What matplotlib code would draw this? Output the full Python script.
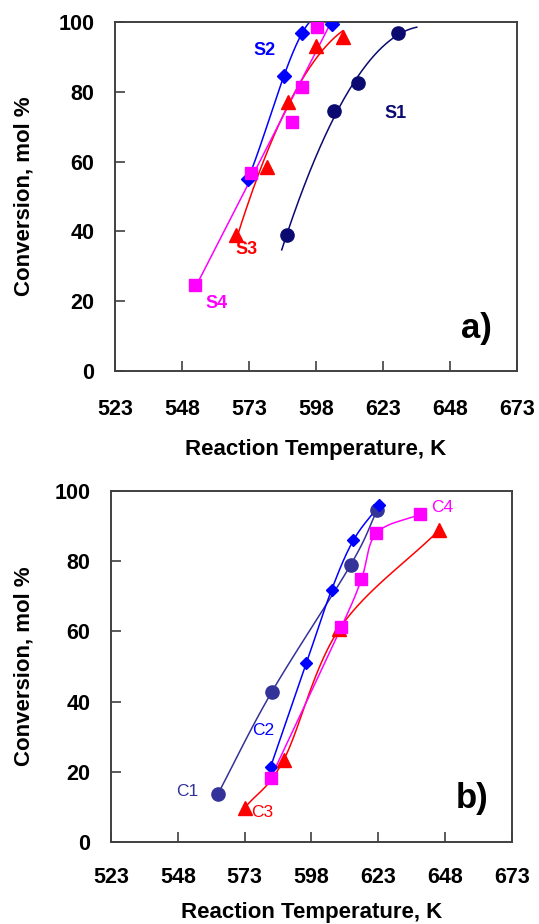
import numpy as np
import matplotlib
matplotlib.use("Agg")
import matplotlib.pyplot as plt

plt.rcParams['font.family'] = ['Liberation Sans', 'DejaVu Sans']
plt.rcParams['font.weight'] = 'bold'

# ---- dados painel a) ----
s1_x = [587.2, 604.7, 613.7, 628.6]
s1_y = [39.0, 74.5, 82.5, 96.8]
s2_x = [572.6, 586.0, 592.8, 604.0]
s2_y = [55.0, 84.5, 96.8, 99.4]
s3_x = [568.1, 579.7, 587.6, 598.0, 608.0]
s3_y = [39.0, 58.5, 77.0, 93.0, 95.7]
s4_x = [552.9, 573.7, 589.0, 592.8, 598.4]
s4_y = [24.6, 56.7, 71.4, 81.4, 98.6]

# ---- dados painel b) ----
c1_x = [563.0, 583.1, 612.6, 622.6]
c1_y = [13.7, 42.7, 78.9, 94.6]
c2_x = [582.7, 596.1, 605.5, 613.7, 623.4]
c2_y = [21.4, 51.0, 71.8, 86.0, 96.0]
c3_x = [573.0, 587.6, 608.4, 645.8]
c3_y = [9.7, 23.4, 60.7, 88.9]
c4_x = [582.7, 609.2, 616.7, 622.3, 638.7]
c4_y = [18.2, 61.3, 74.9, 88.0, 93.4]

xticks = [523, 548, 573, 598, 623, 648, 673]
yticks = [0, 20, 40, 60, 80, 100]

NAVY = '#0a0a70'
SLATE = '#333399'
BLUE = '#0000ff'
RED = '#ff0000'
MAG = '#ff00ff'


# linha de tendência polinomial (como no Excel)
def tendencia(ax, x, y, cor, grau=2, antes=0.0, depois=0.0):
    p = np.polyfit(x, y, grau)
    xs = np.linspace(min(x) - antes, max(x) + depois, 200)
    ax.plot(xs, np.polyval(p, xs), color=cor, lw=1.1, zorder=2)


# linha suavizada (Catmull-Rom) passando pelos pontos
def suave(ax, x, y, cor):
    pts = np.column_stack([x, y])
    ext = np.vstack([2 * pts[0] - pts[1], pts, 2 * pts[-1] - pts[-2]])
    t = np.linspace(0, 1, 40)[:, None]
    out = []
    for i in range(1, len(ext) - 2):
        p0, p1, p2, p3 = ext[i - 1], ext[i], ext[i + 1], ext[i + 2]
        seg = 0.5 * (2 * p1 + (-p0 + p2) * t
                     + (2 * p0 - 5 * p1 + 4 * p2 - p3) * t ** 2
                     + (-p0 + 3 * p1 - 3 * p2 + p3) * t ** 3)
        out.append(seg)
    out = np.vstack(out)
    ax.plot(out[:, 0], out[:, 1], color=cor, lw=1.1, zorder=2)


def estilo(ax, painel, xpad, xlpad, ylpad):
    ax.set_xlim(523, 673)
    ax.set_ylim(0, 100)
    ax.set_xticks(xticks)
    ax.set_yticks(yticks)
    ax.tick_params(direction='in', length=7, width=1.2, labelsize=15.5,
                   color='#404040')
    ax.tick_params(axis='x', pad=xpad)
    ax.tick_params(axis='y', pad=15)
    for s in ax.spines.values():
        s.set_color('#404040')
        s.set_linewidth(1.4)
    ax.set_xlabel('Reaction Temperature, K', fontsize=16, fontweight='bold',
                  labelpad=xlpad)
    ax.set_ylabel('Conversion, mol %', fontsize=16, fontweight='bold',
                  labelpad=ylpad)
    ax.text(658, 12.3, painel, fontsize=25, fontweight='bold', ha='center',
            va='center')


fig = plt.figure(figsize=(5.39, 9.24), dpi=100)
ax1 = fig.add_axes([0.2134, 0.5985, 0.7458, 0.3777])
ax2 = fig.add_axes([0.2059, 0.0887, 0.744, 0.3799])

# painel a)
tendencia(ax1, s1_x, s1_y, NAVY, antes=2.0, depois=7)
tendencia(ax1, s2_x, s2_y, BLUE, grau=3)
tendencia(ax1, s3_x, s3_y, RED)
tendencia(ax1, s4_x, s4_y, MAG, grau=1, depois=4.5)
ax1.plot(s1_x, s1_y, 'o', color=NAVY, ms=9.5, zorder=3)
ax1.plot(s2_x, s2_y, 'D', color=BLUE, ms=7.5, zorder=3)
ax1.plot(s3_x, s3_y, '^', color=RED, ms=9.5, zorder=3)
ax1.plot(s4_x, s4_y, 's', color=MAG, ms=9, zorder=3)
ax1.text(578.6, 91.7, 'S2', color=BLUE, fontsize=13, fontweight='bold',
         ha='center', va='center')
ax1.text(627.5, 73.9, 'S1', color=NAVY, fontsize=13, fontweight='bold',
         ha='center', va='center')
ax1.text(571.9, 34.7, 'S3', color=RED, fontsize=13, fontweight='bold',
         ha='center', va='center')
ax1.text(560.7, 19.2, 'S4', color=MAG, fontsize=13, fontweight='bold',
         ha='center', va='center')
estilo(ax1, 'a)', 20, 14, 17)

# painel b)
suave(ax2, c1_x, c1_y, SLATE)
suave(ax2, c2_x, c2_y, BLUE)
suave(ax2, c3_x, c3_y, RED)
suave(ax2, c4_x, c4_y, MAG)
ax2.plot(c1_x, c1_y, 'o', color=SLATE, ms=9.5, zorder=3)
ax2.plot(c2_x, c2_y, 'D', color=BLUE, ms=6.5, zorder=3)
ax2.plot(c3_x, c3_y, '^', color=RED, ms=9.5, zorder=3)
ax2.plot(c4_x, c4_y, 's', color=MAG, ms=9, zorder=3)
ax2.text(551.7, 14.5, 'C1', color=SLATE, fontsize=12.5, fontweight='normal',
         ha='center', va='center')
ax2.text(580.1, 31.9, 'C2', color=BLUE, fontsize=12.5, fontweight='normal',
         ha='center', va='center')
ax2.text(579.7, 8.5, 'C3', color=RED, fontsize=12.5, fontweight='normal',
         ha='center', va='center')
ax2.text(646.9, 95.4, 'C4', color=MAG, fontsize=12.5, fontweight='normal',
         ha='center', va='center')
estilo(ax2, 'b)', 18, 10, 14)

fig.savefig('out.png', dpi=100)
